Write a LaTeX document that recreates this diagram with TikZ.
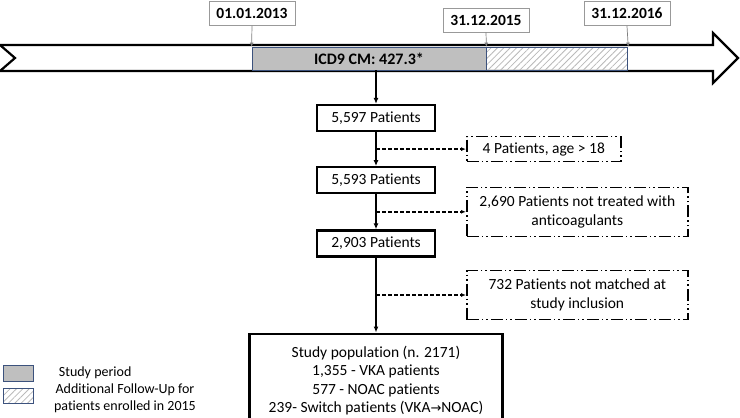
\documentclass[tikz,border=0pt]{standalone}
\usepackage{fontspec}
\setmainfont{Carlito}[Ligatures=NoCommon]
\newfontfamily\symfont{DejaVu Sans}
\usepackage{xcolor}
\usetikzlibrary{arrows.meta,positioning,patterns.meta}

\definecolor{frame}{RGB}{60,82,125}
\definecolor{period}{RGB}{191,191,191}

\begin{document}
\begin{tikzpicture}[
  x=1pt, y=-1pt,
  node distance=34pt,
  box/.style={draw, line width=2.2pt, align=center, font=\fontsize{15.5}{18.5}\selectfont,
              minimum width=118pt, minimum height=26pt, inner sep=2pt},
  excl/.style={draw, line width=1.6pt,
               dash pattern=on 12pt off 3pt on 1.5pt off 3pt on 1.5pt off 3pt,
               align=center, font=\fontsize{15.5}{18.5}\selectfont, inner sep=2pt},
  datebox/.style={draw=gray!80, line width=0.7pt, fill=white,
                  font=\bfseries\fontsize{15.5}{17}\selectfont,
                  minimum width=86pt, minimum height=24pt, inner sep=1pt},
  studyp/.style={draw=frame, line width=0.8pt, fill=period, inner sep=0pt},
  follow/.style={draw=frame, line width=0.8pt, inner sep=0pt,
                 pattern={Lines[angle=45,distance=4.5pt,line width=0.8pt]},
                 pattern color=gray!55},
  lgd/.style={font=\fontsize{14}{17}\selectfont, align=center},
  tick/.style={-{Latex[length=4pt,width=4pt]}, draw=gray, line width=0.7pt},
  arr/.style={-{Latex[length=6pt,width=5pt]}, line width=2pt},
  darr/.style={-{Latex[length=5pt,width=4pt]}, line width=1.6pt,
               dash pattern=on 4pt off 2pt}]

  \useasboundingbox (0,0) rectangle (740,418);

  % timeline
  \draw[line width=2.2pt, fill=white, line join=miter]
    (0,45) -- (713,45) -- (713,33) -- (738,58) -- (713,83) -- (713,71)
    -- (0,71) -- (15,58) -- cycle;
  \node[studyp, minimum width=234pt, minimum height=23pt,
        font=\bfseries\fontsize{16}{18}\selectfont] (icd) at (369,58.5) {ICD9 CM: 427.3*};
  \node[follow, minimum width=141pt, minimum height=23pt, anchor=west] (fu) at (icd.east) {};

  \node[datebox] (d13) at (252,13.5) {01.01.2013};
  \node[datebox] (d15) at (486,20) {31.12.2015};
  \node[datebox] (d16) at (627,13.5) {31.12.2016};
  \draw[tick] (d13.south) -- (icd.north west);
  \draw[tick] (d15.south) -- (fu.north west);
  \draw[tick] (d16.south) -- (fu.north east);

  % flow
  \node[box] (p1) at (376,118) {5,597 Patients};
  \node[box, below=of p1] (p2) {5,593 Patients};
  \node[box, below=35pt of p2] (p3) {2,903 Patients};
  \node[box, below=75pt of p3, minimum width=253pt, minimum height=94pt] (pop)
       {Study population (n. 2171)\\1,355 - VKA patients\\577 - NOAC patients\\
        239- Switch patients (VKA{\symfont\fontsize{13}{18.5}\selectfont →}NOAC)};

  \path (p1.south) -- (p2.north) coordinate[midway] (m1);
  \path (p2.south) -- (p3.north) coordinate[midway] (m2);
  \path (p3.south) -- (pop.north) coordinate[midway] (m3);

  \node[excl, right=90pt of m1, minimum width=154pt, minimum height=25pt] (x1)
       {4 Patients, age > 18};
  \node[excl, right=90pt of m2, minimum width=221pt, minimum height=49pt] (x2)
       {2,690 Patients not treated with\\anticoagulants};
  \node[excl, right=90pt of m3, minimum width=221pt, minimum height=49pt] (x3)
       {732 Patients not matched at\\study inclusion};

  \draw[arr] (icd.south -| p1.north) -- (p1.north);
  \draw[arr] (p1) -- (p2);
  \draw[arr] (p2) -- (p3);
  \draw[arr] (p3) -- (pop);
  \draw[darr] (m1) -- (x1.west);
  \draw[darr] (m2) -- (x2.west);
  \draw[darr] (m3) -- (x3.west);

  % legend
  \node[studyp, minimum width=30pt, minimum height=16pt] (lg1) at (18,373) {};
  \node[follow, minimum width=30pt, minimum height=15pt] (lg2) at (18,395.5) {};
  \node[lgd, right=22pt of lg1] (lt1) {Study period};
  \node[lgd] (lt2) at (125,398.5) {Additional Follow-Up for\\patients enrolled in 2015};
\end{tikzpicture}
\end{document}
